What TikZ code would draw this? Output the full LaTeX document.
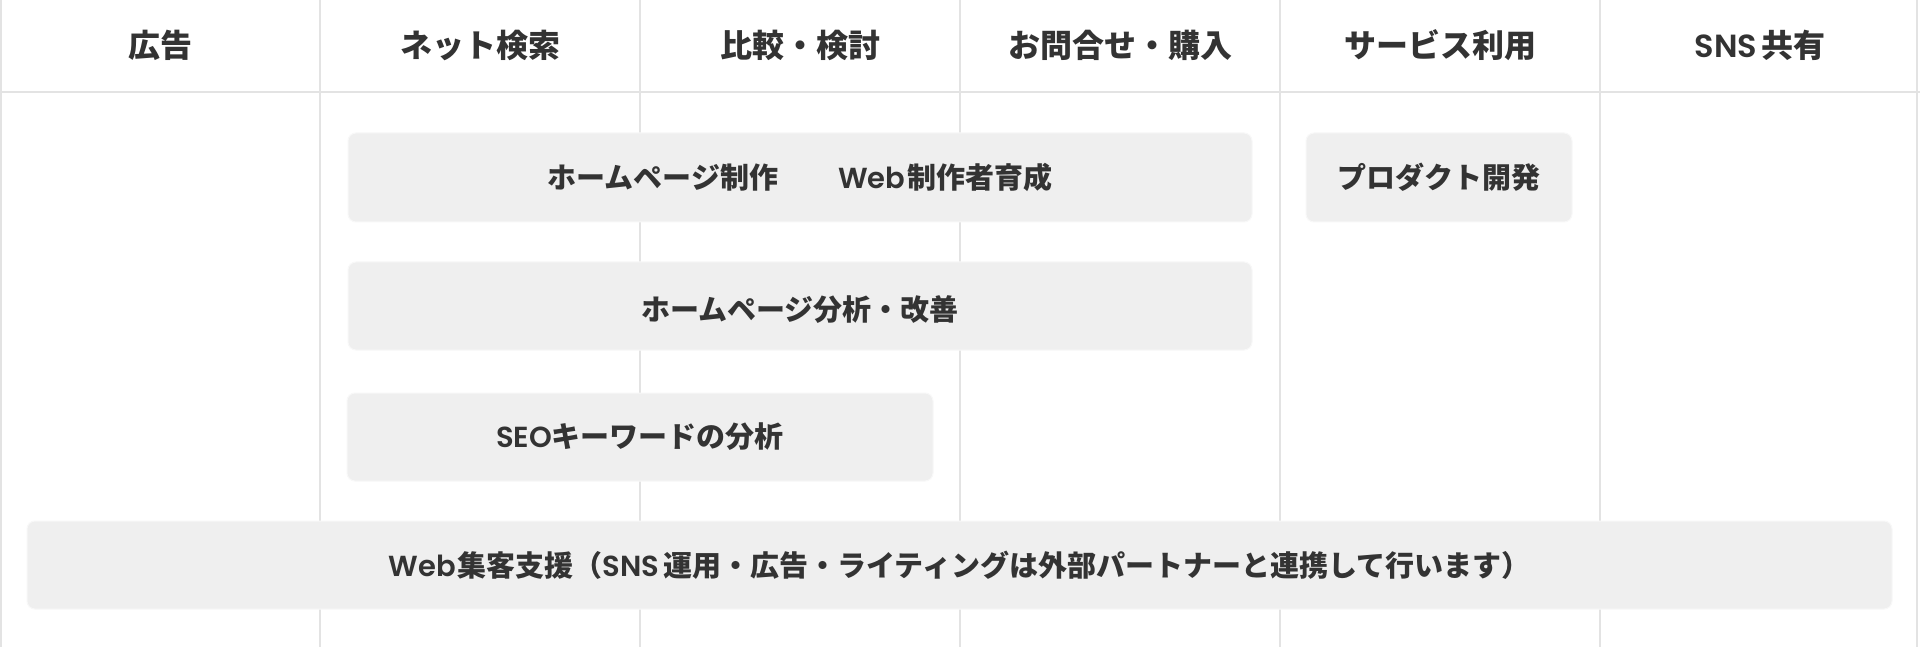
\documentclass[tikz,border=0pt]{standalone}
\usepackage{fontspec}
\setmainfont{Noto Sans CJK JP}
\IfFontExistsTF{Poppins SemiBold}
  {\newfontfamily\lat{Poppins}[BoldFont={Poppins SemiBold}]}
  {\newfontfamily\lat{Poppins}}
\definecolor{txt}{HTML}{333333}
\definecolor{gridc}{HTML}{E3E3E3}
\definecolor{boxfill}{HTML}{EFEFEF}
\tikzset{
  head/.style={text=txt, inner sep=0pt, font=\fontsize{32}{38}\selectfont\bfseries},
  itemtext/.style={text=txt, inner sep=0pt, font=\fontsize{29}{35}\selectfont\bfseries},
  item/.style={rounded corners=8pt, fill=boxfill, draw=white!55!boxfill, line width=1pt, itemtext},
  gridline/.style={draw=gridc, line width=1.5pt},
}
\begin{document}
\begin{tikzpicture}[x=1pt,y=-1pt]
\useasboundingbox (0,0) rectangle (1920,647);
\fill[white] (0,0) rectangle (1920,647);
% grid
\foreach \i in {320,640,960,1280,1600}{
  \coordinate (t\i) at (\i,0);
  \coordinate (b\i) at (\i,647);
  \draw[gridline] (t\i) -- (b\i);
}
\coordinate (hl) at (0,92);
\coordinate (hr) at (1920,92);
\draw[gridline, line width=2pt] (hl) -- (hr);
\coordinate (lt) at (1,0);
\coordinate (lb) at (1,647);
\draw[gridline, line width=2pt] (lt) -- (lb);
\coordinate (rt) at (1917,0);
\coordinate (rb) at (1917,647);
\draw[gridline, line width=2pt] (rt) -- (rb);
% headers
\node[head] (h1) at (160,45) {広告};
\node[head] (h2) at (480,45) {ネット検索};
\node[head] (h3) at (800,45) {比較・検討};
\node[head] (h4) at (1120,45) {お問合せ・購入};
\node[head] (h5) at (1440,45) {サービス利用};
\node[head] (h6) at (1760,45) {{\lat SNS}\hspace{4pt}共有};
% boxes
\node[item, minimum width=904pt, minimum height=89pt] (n1) at (800,177.5)
  {ホームページ制作\hspace{60pt}{\lat Web}\hspace{2pt}制作者育成};
\node[item, minimum width=266pt, minimum height=89pt] (n2) at (1439,177.5) {プロダクト開発};
\node[item, minimum width=904pt, minimum height=88pt] (n3) at (800,306) {};
\node[itemtext] (n3t) at (800,310) {ホームページ分析・改善};
\node[item, minimum width=586pt, minimum height=88pt] (n4) at (640,437) {{\lat SEO}キーワードの分析};
\node[item, minimum width=1865pt, minimum height=88pt] (n5) at (959.5,565)
  {{\lat Web}\hspace{2pt}集客支援（{\lat SNS}\hspace{4pt}運用・広告・ライティングは外部パートナーと連携して行います）};
\end{tikzpicture}
\end{document}
